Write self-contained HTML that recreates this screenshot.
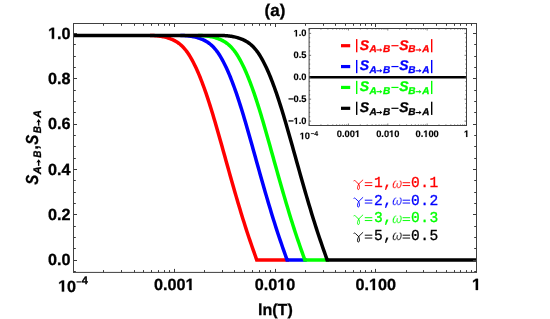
<!DOCTYPE html><html><head><meta charset="utf-8"><style>html,body{margin:0;padding:0;background:#fff}svg{display:block;will-change:transform}text{font-family:"Liberation Sans",sans-serif;font-weight:bold;text-rendering:geometricPrecision}.bi{font-style:italic}.m{font-family:"Liberation Mono",monospace;font-weight:normal}.k{stroke:#000;stroke-width:0.3}</style></head><body>
<svg width="550" height="319" viewBox="0 0 550 319">
<rect width="550" height="319" fill="#fff"/>
<clipPath id="c"><rect x="73.00" y="23.50" width="403.50" height="248.90"/></clipPath>
<g clip-path="url(#c)" fill="none" stroke-width="3.5" stroke-linejoin="miter">
<path d="M150.00 35.50 L151.00 35.51 L152.00 35.54 L153.00 35.58 L154.00 35.62 L155.00 35.68 L156.00 35.75 L157.00 35.84 L158.00 35.93 L159.00 36.05 L160.00 36.18 L161.00 36.33 L162.00 36.50 L163.00 36.69 L164.00 36.89 L165.00 37.13 L166.00 37.38 L167.00 37.66 L168.00 37.96 L169.00 38.29 L170.00 38.65 L171.00 39.03 L172.00 39.45 L173.00 39.89 L174.00 40.37 L175.00 40.89 L176.00 41.46 L177.00 42.07 L178.00 42.74 L179.00 43.46 L180.00 44.25 L181.00 45.10 L182.00 46.03 L183.00 47.03 L184.00 48.11 L185.00 49.27 L186.00 50.53 L187.00 51.87 L188.00 53.30 L189.00 54.81 L190.00 56.42 L191.00 58.11 L192.00 59.88 L193.00 61.74 L194.00 63.68 L195.00 65.70 L196.00 67.81 L197.00 70.00 L198.00 72.27 L199.00 74.61 L200.00 77.04 L201.00 79.54 L202.00 82.12 L203.00 84.77 L204.00 87.50 L205.00 90.30 L206.00 93.17 L207.00 96.12 L208.00 99.14 L209.00 102.22 L210.00 105.35 L211.00 108.55 L212.00 111.80 L213.00 115.10 L214.00 118.44 L215.00 121.82 L216.00 125.25 L217.00 128.70 L218.00 132.18 L219.00 135.70 L220.00 139.23 L221.00 142.78 L222.00 146.34 L223.00 149.92 L224.00 153.50 L225.00 157.08 L226.00 160.66 L227.00 164.24 L228.00 167.81 L229.00 171.37 L230.00 174.92 L231.00 178.46 L232.00 181.98 L233.00 185.48 L234.00 188.96 L235.00 192.43 L236.00 195.87 L237.00 199.28 L238.00 202.67 L239.00 206.03 L240.00 209.36 L241.00 212.66 L242.00 215.93 L243.00 219.16 L244.00 222.35 L245.00 225.50 L246.00 228.61 L247.00 231.68 L248.00 234.70 L249.00 237.69 L250.00 240.64 L251.00 243.55 L252.00 246.45 L253.00 249.32 L254.00 252.17 L255.00 255.00 L256.00 257.83 L256.70 259.90 L289.03 259.90" stroke="#ff0000"/>
<path d="M180.33 35.50 L181.33 35.51 L182.33 35.54 L183.33 35.58 L184.33 35.62 L185.33 35.68 L186.33 35.75 L187.33 35.84 L188.33 35.93 L189.33 36.05 L190.33 36.18 L191.33 36.33 L192.33 36.50 L193.33 36.69 L194.33 36.89 L195.33 37.13 L196.33 37.38 L197.33 37.66 L198.33 37.96 L199.33 38.29 L200.33 38.65 L201.33 39.03 L202.33 39.45 L203.33 39.89 L204.33 40.37 L205.33 40.89 L206.33 41.46 L207.33 42.07 L208.33 42.74 L209.33 43.46 L210.33 44.25 L211.33 45.10 L212.33 46.03 L213.33 47.03 L214.33 48.11 L215.33 49.27 L216.33 50.53 L217.33 51.87 L218.33 53.30 L219.33 54.81 L220.33 56.42 L221.33 58.11 L222.33 59.88 L223.33 61.74 L224.33 63.68 L225.33 65.70 L226.33 67.81 L227.33 70.00 L228.33 72.27 L229.33 74.61 L230.33 77.04 L231.33 79.54 L232.33 82.12 L233.33 84.77 L234.33 87.50 L235.33 90.30 L236.33 93.17 L237.33 96.12 L238.33 99.14 L239.33 102.22 L240.33 105.35 L241.33 108.55 L242.33 111.80 L243.33 115.10 L244.33 118.44 L245.33 121.82 L246.33 125.25 L247.33 128.70 L248.33 132.18 L249.33 135.70 L250.33 139.23 L251.33 142.78 L252.33 146.34 L253.33 149.92 L254.33 153.50 L255.33 157.08 L256.33 160.66 L257.33 164.24 L258.33 167.81 L259.33 171.37 L260.33 174.92 L261.33 178.46 L262.33 181.98 L263.33 185.48 L264.33 188.96 L265.33 192.43 L266.33 195.87 L267.33 199.28 L268.33 202.67 L269.33 206.03 L270.33 209.36 L271.33 212.66 L272.33 215.93 L273.33 219.16 L274.33 222.35 L275.33 225.50 L276.33 228.61 L277.33 231.68 L278.33 234.70 L279.33 237.69 L280.33 240.64 L281.33 243.55 L282.33 246.45 L283.33 249.32 L284.33 252.17 L285.33 255.00 L286.33 257.83 L287.03 259.90 L306.77 259.90" stroke="#0000ff"/>
<path d="M198.07 35.50 L199.07 35.51 L200.07 35.54 L201.07 35.58 L202.07 35.62 L203.07 35.68 L204.07 35.75 L205.07 35.84 L206.07 35.93 L207.07 36.05 L208.07 36.18 L209.07 36.33 L210.07 36.50 L211.07 36.69 L212.07 36.89 L213.07 37.13 L214.07 37.38 L215.07 37.66 L216.07 37.96 L217.07 38.29 L218.07 38.65 L219.07 39.03 L220.07 39.45 L221.07 39.89 L222.07 40.37 L223.07 40.89 L224.07 41.46 L225.07 42.07 L226.07 42.74 L227.07 43.46 L228.07 44.25 L229.07 45.10 L230.07 46.03 L231.07 47.03 L232.07 48.11 L233.07 49.27 L234.07 50.53 L235.07 51.87 L236.07 53.30 L237.07 54.81 L238.07 56.42 L239.07 58.11 L240.07 59.88 L241.07 61.74 L242.07 63.68 L243.07 65.70 L244.07 67.81 L245.07 70.00 L246.07 72.27 L247.07 74.61 L248.07 77.04 L249.07 79.54 L250.07 82.12 L251.07 84.77 L252.07 87.50 L253.07 90.30 L254.07 93.17 L255.07 96.12 L256.07 99.14 L257.07 102.22 L258.07 105.35 L259.07 108.55 L260.07 111.80 L261.07 115.10 L262.07 118.44 L263.07 121.82 L264.07 125.25 L265.07 128.70 L266.07 132.18 L267.07 135.70 L268.07 139.23 L269.07 142.78 L270.07 146.34 L271.07 149.92 L272.07 153.50 L273.07 157.08 L274.07 160.66 L275.07 164.24 L276.07 167.81 L277.07 171.37 L278.07 174.92 L279.07 178.46 L280.07 181.98 L281.07 185.48 L282.07 188.96 L283.07 192.43 L284.07 195.87 L285.07 199.28 L286.07 202.67 L287.07 206.03 L288.07 209.36 L289.07 212.66 L290.07 215.93 L291.07 219.16 L292.07 222.35 L293.07 225.50 L294.07 228.61 L295.07 231.68 L296.07 234.70 L297.07 237.69 L298.07 240.64 L299.07 243.55 L300.07 246.45 L301.07 249.32 L302.07 252.17 L303.07 255.00 L304.07 257.83 L304.77 259.90 L329.12 259.90" stroke="#00ff00"/>
<path d="M73.50 35.50 L218.42 35.50 L219.42 35.50 L220.42 35.50 L221.42 35.51 L222.42 35.54 L223.42 35.58 L224.42 35.62 L225.42 35.68 L226.42 35.75 L227.42 35.84 L228.42 35.93 L229.42 36.05 L230.42 36.18 L231.42 36.33 L232.42 36.50 L233.42 36.69 L234.42 36.89 L235.42 37.13 L236.42 37.38 L237.42 37.66 L238.42 37.96 L239.42 38.29 L240.42 38.65 L241.42 39.03 L242.42 39.45 L243.42 39.89 L244.42 40.37 L245.42 40.89 L246.42 41.46 L247.42 42.07 L248.42 42.74 L249.42 43.46 L250.42 44.25 L251.42 45.10 L252.42 46.03 L253.42 47.03 L254.42 48.11 L255.42 49.27 L256.42 50.53 L257.42 51.87 L258.42 53.30 L259.42 54.81 L260.42 56.42 L261.42 58.11 L262.42 59.88 L263.42 61.74 L264.42 63.68 L265.42 65.70 L266.42 67.81 L267.42 70.00 L268.42 72.27 L269.42 74.61 L270.42 77.04 L271.42 79.54 L272.42 82.12 L273.42 84.77 L274.42 87.50 L275.42 90.30 L276.42 93.17 L277.42 96.12 L278.42 99.14 L279.42 102.22 L280.42 105.35 L281.42 108.55 L282.42 111.80 L283.42 115.10 L284.42 118.44 L285.42 121.82 L286.42 125.25 L287.42 128.70 L288.42 132.18 L289.42 135.70 L290.42 139.23 L291.42 142.78 L292.42 146.34 L293.42 149.92 L294.42 153.50 L295.42 157.08 L296.42 160.66 L297.42 164.24 L298.42 167.81 L299.42 171.37 L300.42 174.92 L301.42 178.46 L302.42 181.98 L303.42 185.48 L304.42 188.96 L305.42 192.43 L306.42 195.87 L307.42 199.28 L308.42 202.67 L309.42 206.03 L310.42 209.36 L311.42 212.66 L312.42 215.93 L313.42 219.16 L314.42 222.35 L315.42 225.50 L316.42 228.61 L317.42 231.68 L318.42 234.70 L319.42 237.69 L320.42 240.64 L321.42 243.55 L322.42 246.45 L323.42 249.32 L324.42 252.17 L325.42 255.00 L326.42 257.83 L327.12 259.90 L476.50 259.90" stroke="#000000"/>
</g>
<path d="M73.50 271.50h2.30M476.50 271.50h-2.30M73.50 260.50h3.50M476.50 260.50h-3.50M73.50 248.50h2.30M476.50 248.50h-2.30M73.50 237.50h2.30M476.50 237.50h-2.30M73.50 226.50h2.30M476.50 226.50h-2.30M73.50 214.50h3.50M476.50 214.50h-3.50M73.50 203.50h2.30M476.50 203.50h-2.30M73.50 192.50h2.30M476.50 192.50h-2.30M73.50 180.50h2.30M476.50 180.50h-2.30M73.50 169.50h3.50M476.50 169.50h-3.50M73.50 158.50h2.30M476.50 158.50h-2.30M73.50 146.50h2.30M476.50 146.50h-2.30M73.50 135.50h2.30M476.50 135.50h-2.30M73.50 124.50h3.50M476.50 124.50h-3.50M73.50 112.50h2.30M476.50 112.50h-2.30M73.50 101.50h2.30M476.50 101.50h-2.30M73.50 90.50h2.30M476.50 90.50h-2.30M73.50 78.50h3.50M476.50 78.50h-3.50M73.50 67.50h2.30M476.50 67.50h-2.30M73.50 56.50h2.30M476.50 56.50h-2.30M73.50 44.50h2.30M476.50 44.50h-2.30M73.50 33.50h3.50M476.50 33.50h-3.50M73.50 272.40v-3.50M73.50 23.50v3.50M103.50 272.40v-2.30M103.50 23.50v2.30M121.50 272.40v-2.30M121.50 23.50v2.30M134.50 272.40v-2.30M134.50 23.50v2.30M143.50 272.40v-2.30M143.50 23.50v2.30M151.50 272.40v-2.30M151.50 23.50v2.30M158.50 272.40v-2.30M158.50 23.50v2.30M164.50 272.40v-2.30M164.50 23.50v2.30M169.50 272.40v-2.30M169.50 23.50v2.30M174.50 272.40v-3.50M174.50 23.50v3.50M204.50 272.40v-2.30M204.50 23.50v2.30M222.50 272.40v-2.30M222.50 23.50v2.30M234.50 272.40v-2.30M234.50 23.50v2.30M244.50 272.40v-2.30M244.50 23.50v2.30M252.50 272.40v-2.30M252.50 23.50v2.30M259.50 272.40v-2.30M259.50 23.50v2.30M265.50 272.40v-2.30M265.50 23.50v2.30M270.50 272.40v-2.30M270.50 23.50v2.30M275.50 272.40v-3.50M275.50 23.50v3.50M305.50 272.40v-2.30M305.50 23.50v2.30M323.50 272.40v-2.30M323.50 23.50v2.30M335.50 272.40v-2.30M335.50 23.50v2.30M345.50 272.40v-2.30M345.50 23.50v2.30M353.50 272.40v-2.30M353.50 23.50v2.30M360.50 272.40v-2.30M360.50 23.50v2.30M365.50 272.40v-2.30M365.50 23.50v2.30M371.50 272.40v-2.30M371.50 23.50v2.30M375.50 272.40v-3.50M375.50 23.50v3.50M406.50 272.40v-2.30M406.50 23.50v2.30M423.50 272.40v-2.30M423.50 23.50v2.30M436.50 272.40v-2.30M436.50 23.50v2.30M446.50 272.40v-2.30M446.50 23.50v2.30M454.50 272.40v-2.30M454.50 23.50v2.30M460.50 272.40v-2.30M460.50 23.50v2.30M466.50 272.40v-2.30M466.50 23.50v2.30M471.50 272.40v-2.30M471.50 23.50v2.30M476.50 272.40v-3.50M476.50 23.50v3.50" stroke="#3a3a3a" stroke-width="1" fill="none"/>
<rect x="73.50" y="23.50" width="403.00" height="248.90" fill="none" stroke="#404040" stroke-width="1"/>
<text x="48.08" y="265.45" font-size="16.20" fill="#000" stroke="#000" stroke-width="0.30">0.0</text>
<text x="48.08" y="220.13" font-size="16.20" fill="#000" stroke="#000" stroke-width="0.30">0.2</text>
<text x="48.08" y="174.81" font-size="16.20" fill="#000" stroke="#000" stroke-width="0.30">0.4</text>
<text x="48.08" y="129.49" font-size="16.20" fill="#000" stroke="#000" stroke-width="0.30">0.6</text>
<text x="48.08" y="84.17" font-size="16.20" fill="#000" stroke="#000" stroke-width="0.30">0.8</text>
<path d="M51.86 38.85 L51.86 29.60 L49.19 31.26 L49.19 29.52 L51.98 27.70 L54.08 27.70 L54.08 38.85 Z" fill="#000" stroke="#000" stroke-width="0.30"/><text x="57.09" y="38.85" font-size="16.20" fill="#000" stroke="#000" stroke-width="0.30">.0</text>
<text x="153.98" y="290.00" font-size="16.20" fill="#000" stroke="#000" stroke-width="0.30">0.00</text><path d="M189.29 290.00 L189.29 280.75 L186.62 282.41 L186.62 280.67 L189.41 278.85 L191.51 278.85 L191.51 290.00 Z" fill="#000" stroke="#000" stroke-width="0.30"/>
<text x="254.73" y="290.00" font-size="16.20" fill="#000" stroke="#000" stroke-width="0.30">0.0</text><path d="M281.03 290.00 L281.03 280.75 L278.36 282.41 L278.36 280.67 L281.15 278.85 L283.25 278.85 L283.25 290.00 Z" fill="#000" stroke="#000" stroke-width="0.30"/><text x="286.26" y="290.00" font-size="16.20" fill="#000" stroke="#000" stroke-width="0.30">0</text>
<text x="355.48" y="290.00" font-size="16.20" fill="#000" stroke="#000" stroke-width="0.30">0.</text><path d="M372.77 290.00 L372.77 280.75 L370.10 282.41 L370.10 280.67 L372.89 278.85 L374.99 278.85 L374.99 290.00 Z" fill="#000" stroke="#000" stroke-width="0.30"/><text x="378.00" y="290.00" font-size="16.20" fill="#000" stroke="#000" stroke-width="0.30">00</text>
<path d="M475.78 290.00 L475.78 280.75 L473.10 282.41 L473.10 280.67 L475.89 278.85 L478.00 278.85 L478.00 290.00 Z" fill="#000" stroke="#000" stroke-width="0.30"/>
<path d="M61.88 291.60 L61.88 282.35 L59.21 284.01 L59.21 282.27 L62.00 280.45 L64.10 280.45 L64.10 291.60 Z" fill="#000" stroke="#000" stroke-width="0.30"/><text x="67.11" y="291.60" font-size="16.20" fill="#000" stroke="#000" stroke-width="0.30">0</text><path d="M76.5 281.9h4.9" stroke="#000" stroke-width="1.1"/><text x="81.70" y="284.00" font-size="11.00" fill="#000" stroke="#000" stroke-width="0.30">4</text>
<text class="k" x="275" y="16.0" font-size="17" text-anchor="middle">(a)</text>
<text class="k" x="275.4" y="315.2" font-size="16" text-anchor="middle">ln(T)</text>
<g transform="translate(38.2,184.8) rotate(-90)"><text class="bi" transform="scale(0.860,1)" x="0.14" y="0.00" font-size="17.40" fill="#000" stroke="#000" stroke-width="0.3">S</text><text class="bi" x="10.53" y="3.10" font-size="11.00" fill="#000" stroke="#000" stroke-width="0.3">A</text><text class="bi" transform="scale(0.900,1)" x="30.14" y="3.10" font-size="11.00" fill="#000" stroke="#000" stroke-width="0.3">B</text><text class="" transform="scale(0.860,1)" x="40.91" y="0.00" font-size="17.40" fill="#000" stroke="#000" stroke-width="0.3">,</text><text class="bi" transform="scale(0.860,1)" x="46.65" y="0.00" font-size="17.40" fill="#000" stroke="#000" stroke-width="0.3">S</text><text class="bi" transform="scale(0.900,1)" x="57.25" y="3.10" font-size="11.00" fill="#000" stroke="#000" stroke-width="0.3">B</text><text class="bi" x="66.73" y="3.10" font-size="11.00" fill="#000" stroke="#000" stroke-width="0.3">A</text><path d="M18.90 0.45H24.40" stroke="#000" stroke-width="1.40" fill="none"/><path d="M25.60 0.45L22.20 -1.85L22.90 0.45L22.20 2.75Z" fill="#000"/><path d="M59.10 0.45H64.60" stroke="#000" stroke-width="1.40" fill="none"/><path d="M65.80 0.45L62.40 -1.85L63.10 0.45L62.40 2.75Z" fill="#000"/></g>
<path d="M353.9 180.70 Q354.6 180.10 355.4 181.00 L358.6 184.00 M362.8 180.00 L358.9 183.80 C357.8 185.60 357.3 187.60 357.5 188.70 C357.8 189.90 358.9 189.90 359.3 188.50 C359.7 187.20 359.5 185.30 358.6 184.00" fill="none" stroke="#ff0000" stroke-width="0.9" stroke-linecap="round" stroke-linejoin="round"/><path d="M364.80 182.70h7.5M364.80 185.55h7.5" stroke="#ff0000" stroke-width="0.95" fill="none"/><text class="m" transform="translate(374.10,187.30) scale(0.97,1.01)" font-size="15.0" fill="#ff0000" stroke="#ff0000" stroke-width="0.32">1</text><text class="m" transform="translate(383.33,187.30) scale(0.97,1.01)" font-size="15.0" fill="#ff0000" stroke="#ff0000" stroke-width="0.32">,</text><text class="m" transform="translate(391.56,187.60) skewX(-12) scale(1.18,1.03)" x="0" y="0" font-size="14" fill="#ff0000" stroke="#fff" stroke-width="0.22">ω</text><path d="M402.60 182.70h7.5M402.60 185.55h7.5" stroke="#ff0000" stroke-width="0.95" fill="none"/><text class="m" transform="translate(411.02,187.30) scale(0.97,1.01)" font-size="15.0" fill="#ff0000" stroke="#ff0000" stroke-width="0.32">0</text><text class="m" transform="translate(420.25,187.30) scale(0.97,1.01)" font-size="15.0" fill="#ff0000" stroke="#ff0000" stroke-width="0.32">.</text><text class="m" transform="translate(429.48,187.30) scale(0.97,1.01)" font-size="15.0" fill="#ff0000" stroke="#ff0000" stroke-width="0.32">1</text>
<path d="M353.9 198.20 Q354.6 197.60 355.4 198.50 L358.6 201.50 M362.8 197.50 L358.9 201.30 C357.8 203.10 357.3 205.10 357.5 206.20 C357.8 207.40 358.9 207.40 359.3 206.00 C359.7 204.70 359.5 202.80 358.6 201.50" fill="none" stroke="#0000ff" stroke-width="0.9" stroke-linecap="round" stroke-linejoin="round"/><path d="M364.80 200.20h7.5M364.80 203.05h7.5" stroke="#0000ff" stroke-width="0.95" fill="none"/><text class="m" transform="translate(374.10,204.80) scale(0.97,1.01)" font-size="15.0" fill="#0000ff" stroke="#0000ff" stroke-width="0.32">2</text><text class="m" transform="translate(383.33,204.80) scale(0.97,1.01)" font-size="15.0" fill="#0000ff" stroke="#0000ff" stroke-width="0.32">,</text><text class="m" transform="translate(391.56,205.10) skewX(-12) scale(1.18,1.03)" x="0" y="0" font-size="14" fill="#0000ff" stroke="#fff" stroke-width="0.22">ω</text><path d="M402.60 200.20h7.5M402.60 203.05h7.5" stroke="#0000ff" stroke-width="0.95" fill="none"/><text class="m" transform="translate(411.02,204.80) scale(0.97,1.01)" font-size="15.0" fill="#0000ff" stroke="#0000ff" stroke-width="0.32">0</text><text class="m" transform="translate(420.25,204.80) scale(0.97,1.01)" font-size="15.0" fill="#0000ff" stroke="#0000ff" stroke-width="0.32">.</text><text class="m" transform="translate(429.48,204.80) scale(0.97,1.01)" font-size="15.0" fill="#0000ff" stroke="#0000ff" stroke-width="0.32">2</text>
<path d="M353.9 215.70 Q354.6 215.10 355.4 216.00 L358.6 219.00 M362.8 215.00 L358.9 218.80 C357.8 220.60 357.3 222.60 357.5 223.70 C357.8 224.90 358.9 224.90 359.3 223.50 C359.7 222.20 359.5 220.30 358.6 219.00" fill="none" stroke="#00ff00" stroke-width="0.9" stroke-linecap="round" stroke-linejoin="round"/><path d="M364.80 217.70h7.5M364.80 220.55h7.5" stroke="#00ff00" stroke-width="0.95" fill="none"/><text class="m" transform="translate(374.10,222.30) scale(0.97,1.01)" font-size="15.0" fill="#00ff00" stroke="#00ff00" stroke-width="0.32">3</text><text class="m" transform="translate(383.33,222.30) scale(0.97,1.01)" font-size="15.0" fill="#00ff00" stroke="#00ff00" stroke-width="0.32">,</text><text class="m" transform="translate(391.56,222.60) skewX(-12) scale(1.18,1.03)" x="0" y="0" font-size="14" fill="#00ff00" stroke="#fff" stroke-width="0.22">ω</text><path d="M402.60 217.70h7.5M402.60 220.55h7.5" stroke="#00ff00" stroke-width="0.95" fill="none"/><text class="m" transform="translate(411.02,222.30) scale(0.97,1.01)" font-size="15.0" fill="#00ff00" stroke="#00ff00" stroke-width="0.32">0</text><text class="m" transform="translate(420.25,222.30) scale(0.97,1.01)" font-size="15.0" fill="#00ff00" stroke="#00ff00" stroke-width="0.32">.</text><text class="m" transform="translate(429.48,222.30) scale(0.97,1.01)" font-size="15.0" fill="#00ff00" stroke="#00ff00" stroke-width="0.32">3</text>
<path d="M353.9 233.20 Q354.6 232.60 355.4 233.50 L358.6 236.50 M362.8 232.50 L358.9 236.30 C357.8 238.10 357.3 240.10 357.5 241.20 C357.8 242.40 358.9 242.40 359.3 241.00 C359.7 239.70 359.5 237.80 358.6 236.50" fill="none" stroke="#000000" stroke-width="0.9" stroke-linecap="round" stroke-linejoin="round"/><path d="M364.80 235.20h7.5M364.80 238.05h7.5" stroke="#000000" stroke-width="0.95" fill="none"/><text class="m" transform="translate(374.10,239.80) scale(0.97,1.01)" font-size="15.0" fill="#000000" stroke="#000000" stroke-width="0.32">5</text><text class="m" transform="translate(383.33,239.80) scale(0.97,1.01)" font-size="15.0" fill="#000000" stroke="#000000" stroke-width="0.32">,</text><text class="m" transform="translate(391.56,240.10) skewX(-12) scale(1.18,1.03)" x="0" y="0" font-size="14" fill="#000000" stroke="#fff" stroke-width="0.22">ω</text><path d="M402.60 235.20h7.5M402.60 238.05h7.5" stroke="#000000" stroke-width="0.95" fill="none"/><text class="m" transform="translate(411.02,239.80) scale(0.97,1.01)" font-size="15.0" fill="#000000" stroke="#000000" stroke-width="0.32">0</text><text class="m" transform="translate(420.25,239.80) scale(0.97,1.01)" font-size="15.0" fill="#000000" stroke="#000000" stroke-width="0.32">.</text><text class="m" transform="translate(429.48,239.80) scale(0.97,1.01)" font-size="15.0" fill="#000000" stroke="#000000" stroke-width="0.32">5</text>
<rect x="309.10" y="28.50" width="157.40" height="97.00" fill="#fff"/>
<path d="M309.10 77.25H466.50" stroke="#000" stroke-width="2.5"/>
<path d="M309.10 125.49h1.10M466.50 125.49h-1.10M309.10 121.10h2.00M466.50 121.10h-2.00M309.10 116.72h1.10M466.50 116.72h-1.10M309.10 112.33h1.10M466.50 112.33h-1.10M309.10 107.95h1.10M466.50 107.95h-1.10M309.10 103.56h1.10M466.50 103.56h-1.10M309.10 99.17h2.00M466.50 99.17h-2.00M309.10 94.79h1.10M466.50 94.79h-1.10M309.10 90.41h1.10M466.50 90.41h-1.10M309.10 86.02h1.10M466.50 86.02h-1.10M309.10 81.64h1.10M466.50 81.64h-1.10M309.10 77.25h2.00M466.50 77.25h-2.00M309.10 72.86h1.10M466.50 72.86h-1.10M309.10 68.48h1.10M466.50 68.48h-1.10M309.10 64.09h1.10M466.50 64.09h-1.10M309.10 59.71h1.10M466.50 59.71h-1.10M309.10 55.33h2.00M466.50 55.33h-2.00M309.10 50.94h1.10M466.50 50.94h-1.10M309.10 46.55h1.10M466.50 46.55h-1.10M309.10 42.17h1.10M466.50 42.17h-1.10M309.10 37.78h1.10M466.50 37.78h-1.10M309.10 33.40h2.00M466.50 33.40h-2.00M309.10 29.01h1.10M466.50 29.01h-1.10M309.10 125.50v-2.00M309.10 28.50v2.00M320.95 125.50v-1.10M320.95 28.50v1.10M327.87 125.50v-1.10M327.87 28.50v1.10M332.79 125.50v-1.10M332.79 28.50v1.10M336.60 125.50v-1.10M336.60 28.50v1.10M339.72 125.50v-1.10M339.72 28.50v1.10M342.35 125.50v-1.10M342.35 28.50v1.10M344.64 125.50v-1.10M344.64 28.50v1.10M346.65 125.50v-1.10M346.65 28.50v1.10M348.45 125.50v-2.00M348.45 28.50v2.00M360.30 125.50v-1.10M360.30 28.50v1.10M367.22 125.50v-1.10M367.22 28.50v1.10M372.14 125.50v-1.10M372.14 28.50v1.10M375.95 125.50v-1.10M375.95 28.50v1.10M379.07 125.50v-1.10M379.07 28.50v1.10M381.70 125.50v-1.10M381.70 28.50v1.10M383.99 125.50v-1.10M383.99 28.50v1.10M386.00 125.50v-1.10M386.00 28.50v1.10M387.80 125.50v-2.00M387.80 28.50v2.00M399.65 125.50v-1.10M399.65 28.50v1.10M406.57 125.50v-1.10M406.57 28.50v1.10M411.49 125.50v-1.10M411.49 28.50v1.10M415.30 125.50v-1.10M415.30 28.50v1.10M418.42 125.50v-1.10M418.42 28.50v1.10M421.05 125.50v-1.10M421.05 28.50v1.10M423.34 125.50v-1.10M423.34 28.50v1.10M425.35 125.50v-1.10M425.35 28.50v1.10M427.15 125.50v-2.00M427.15 28.50v2.00M439.00 125.50v-1.10M439.00 28.50v1.10M445.92 125.50v-1.10M445.92 28.50v1.10M450.84 125.50v-1.10M450.84 28.50v1.10M454.65 125.50v-1.10M454.65 28.50v1.10M457.77 125.50v-1.10M457.77 28.50v1.10M460.40 125.50v-1.10M460.40 28.50v1.10M462.69 125.50v-1.10M462.69 28.50v1.10M464.70 125.50v-1.10M464.70 28.50v1.10M466.50 125.50v-2.00M466.50 28.50v2.00" stroke="#404040" stroke-width="0.7" fill="none"/>
<rect x="309.10" y="28.50" width="157.40" height="97.00" fill="none" stroke="#404040" stroke-width="1"/>
<path d="M295.74 36.40 L295.74 31.09 L294.21 32.05 L294.21 31.04 L295.81 30.00 L297.02 30.00 L297.02 36.40 Z" fill="#000" stroke="#000" stroke-width="0.15"/><text x="298.74" y="36.40" font-size="9.30" fill="#000" stroke="#000" stroke-width="0.15">.0</text>
<text x="293.57" y="58.33" font-size="9.30" fill="#000" stroke="#000" stroke-width="0.15">0.5</text>
<text x="293.57" y="80.25" font-size="9.30" fill="#000" stroke="#000" stroke-width="0.15">0.0</text>
<text x="288.14" y="102.17" font-size="9.30" fill="#000" stroke="#000" stroke-width="0.15">−0.5</text>
<text x="288.14" y="124.10" font-size="9.30" fill="#000" stroke="#000" stroke-width="0.15">−</text><path d="M295.74 124.10 L295.74 118.79 L294.21 119.75 L294.21 118.74 L295.81 117.70 L297.02 117.70 L297.02 124.10 Z" fill="#000" stroke="#000" stroke-width="0.15"/><text x="298.74" y="124.10" font-size="9.30" fill="#000" stroke="#000" stroke-width="0.15">.0</text>
<text x="336.81" y="137.00" font-size="9.30" fill="#000" stroke="#000" stroke-width="0.15">0.00</text><path d="M357.08 137.00 L357.08 131.69 L355.55 132.65 L355.55 131.64 L357.15 130.60 L358.36 130.60 L358.36 137.00 Z" fill="#000" stroke="#000" stroke-width="0.15"/>
<text x="376.16" y="137.00" font-size="9.30" fill="#000" stroke="#000" stroke-width="0.15">0.0</text><path d="M391.26 137.00 L391.26 131.69 L389.73 132.65 L389.73 131.64 L391.33 130.60 L392.54 130.60 L392.54 137.00 Z" fill="#000" stroke="#000" stroke-width="0.15"/><text x="394.26" y="137.00" font-size="9.30" fill="#000" stroke="#000" stroke-width="0.15">0</text>
<text x="415.51" y="137.00" font-size="9.30" fill="#000" stroke="#000" stroke-width="0.15">0.</text><path d="M425.44 137.00 L425.44 131.69 L423.91 132.65 L423.91 131.64 L425.51 130.60 L426.72 130.60 L426.72 137.00 Z" fill="#000" stroke="#000" stroke-width="0.15"/><text x="428.44" y="137.00" font-size="9.30" fill="#000" stroke="#000" stroke-width="0.15">00</text>
<path d="M466.08 137.00 L466.08 131.69 L464.55 132.65 L464.55 131.64 L466.15 130.60 L467.36 130.60 L467.36 137.00 Z" fill="#000" stroke="#000" stroke-width="0.15"/>
<path d="M301.87 139.20 L301.87 133.89 L300.34 134.85 L300.34 133.84 L301.94 132.80 L303.15 132.80 L303.15 139.20 Z" fill="#000" stroke="#000" stroke-width="0.15"/><text x="304.87" y="139.20" font-size="9.30" fill="#000" stroke="#000" stroke-width="0.15">0</text><path d="M310.9 133.6h3.2" stroke="#000" stroke-width="0.8"/><text x="314.30" y="135.70" font-size="7.00" fill="#000" stroke="#000" stroke-width="0.10">4</text>
<rect x="341" y="44.10" width="9.2" height="3.2" fill="#ff0000"/><rect x="356.0" y="39.10" width="1.4" height="13.2" fill="#ff0000"/><rect x="431.0" y="39.10" width="1.4" height="13.2" fill="#ff0000"/><rect x="391.4" y="45.10" width="7.1" height="1.2" fill="#ff0000"/><text class="bi" x="359.73" y="49.60" font-size="14.00" fill="#ff0000" stroke="#ff0000" stroke-width="0.3">S</text><text class="bi" x="369.41" y="52.10" font-size="10.00" fill="#ff0000" stroke="#ff0000" stroke-width="0.3">A</text><text class="bi" x="383.02" y="52.10" font-size="10.00" fill="#ff0000" stroke="#ff0000" stroke-width="0.3">B</text><text class="bi" x="399.23" y="49.60" font-size="14.00" fill="#ff0000" stroke="#ff0000" stroke-width="0.3">S</text><text class="bi" x="408.32" y="52.10" font-size="10.00" fill="#ff0000" stroke="#ff0000" stroke-width="0.3">B</text><text class="bi" x="422.31" y="52.10" font-size="10.00" fill="#ff0000" stroke="#ff0000" stroke-width="0.3">A</text><path d="M376.40 49.95H381.10" stroke="#ff0000" stroke-width="1.15" fill="none"/><path d="M382.30 49.95L379.70 47.95L380.40 49.95L379.70 51.95Z" fill="#ff0000"/><path d="M415.60 49.95H420.30" stroke="#ff0000" stroke-width="1.15" fill="none"/><path d="M421.50 49.95L418.90 47.95L419.60 49.95L418.90 51.95Z" fill="#ff0000"/>
<rect x="341" y="64.97" width="9.2" height="3.2" fill="#0000ff"/><rect x="356.0" y="59.97" width="1.4" height="13.2" fill="#0000ff"/><rect x="431.0" y="59.97" width="1.4" height="13.2" fill="#0000ff"/><rect x="391.4" y="65.97" width="7.1" height="1.2" fill="#0000ff"/><text class="bi" x="359.73" y="70.47" font-size="14.00" fill="#0000ff" stroke="#0000ff" stroke-width="0.3">S</text><text class="bi" x="369.41" y="72.97" font-size="10.00" fill="#0000ff" stroke="#0000ff" stroke-width="0.3">A</text><text class="bi" x="383.02" y="72.97" font-size="10.00" fill="#0000ff" stroke="#0000ff" stroke-width="0.3">B</text><text class="bi" x="399.23" y="70.47" font-size="14.00" fill="#0000ff" stroke="#0000ff" stroke-width="0.3">S</text><text class="bi" x="408.32" y="72.97" font-size="10.00" fill="#0000ff" stroke="#0000ff" stroke-width="0.3">B</text><text class="bi" x="422.31" y="72.97" font-size="10.00" fill="#0000ff" stroke="#0000ff" stroke-width="0.3">A</text><path d="M376.40 70.82H381.10" stroke="#0000ff" stroke-width="1.15" fill="none"/><path d="M382.30 70.82L379.70 68.82L380.40 70.82L379.70 72.82Z" fill="#0000ff"/><path d="M415.60 70.82H420.30" stroke="#0000ff" stroke-width="1.15" fill="none"/><path d="M421.50 70.82L418.90 68.82L419.60 70.82L418.90 72.82Z" fill="#0000ff"/>
<rect x="341" y="85.84" width="9.2" height="3.2" fill="#00ff00"/><rect x="356.0" y="80.84" width="1.4" height="13.2" fill="#00ff00"/><rect x="431.0" y="80.84" width="1.4" height="13.2" fill="#00ff00"/><rect x="391.4" y="86.84" width="7.1" height="1.2" fill="#00ff00"/><text class="bi" x="359.73" y="91.34" font-size="14.00" fill="#00ff00" stroke="#00ff00" stroke-width="0.3">S</text><text class="bi" x="369.41" y="93.84" font-size="10.00" fill="#00ff00" stroke="#00ff00" stroke-width="0.3">A</text><text class="bi" x="383.02" y="93.84" font-size="10.00" fill="#00ff00" stroke="#00ff00" stroke-width="0.3">B</text><text class="bi" x="399.23" y="91.34" font-size="14.00" fill="#00ff00" stroke="#00ff00" stroke-width="0.3">S</text><text class="bi" x="408.32" y="93.84" font-size="10.00" fill="#00ff00" stroke="#00ff00" stroke-width="0.3">B</text><text class="bi" x="422.31" y="93.84" font-size="10.00" fill="#00ff00" stroke="#00ff00" stroke-width="0.3">A</text><path d="M376.40 91.69H381.10" stroke="#00ff00" stroke-width="1.15" fill="none"/><path d="M382.30 91.69L379.70 89.69L380.40 91.69L379.70 93.69Z" fill="#00ff00"/><path d="M415.60 91.69H420.30" stroke="#00ff00" stroke-width="1.15" fill="none"/><path d="M421.50 91.69L418.90 89.69L419.60 91.69L418.90 93.69Z" fill="#00ff00"/>
<rect x="341" y="106.71" width="9.2" height="3.2" fill="#000000"/><rect x="356.0" y="101.71" width="1.4" height="13.2" fill="#000000"/><rect x="431.0" y="101.71" width="1.4" height="13.2" fill="#000000"/><rect x="391.4" y="107.71" width="7.1" height="1.2" fill="#000000"/><text class="bi" x="359.73" y="112.21" font-size="14.00" fill="#000000" stroke="#000000" stroke-width="0.3">S</text><text class="bi" x="369.41" y="114.71" font-size="10.00" fill="#000000" stroke="#000000" stroke-width="0.3">A</text><text class="bi" x="383.02" y="114.71" font-size="10.00" fill="#000000" stroke="#000000" stroke-width="0.3">B</text><text class="bi" x="399.23" y="112.21" font-size="14.00" fill="#000000" stroke="#000000" stroke-width="0.3">S</text><text class="bi" x="408.32" y="114.71" font-size="10.00" fill="#000000" stroke="#000000" stroke-width="0.3">B</text><text class="bi" x="422.31" y="114.71" font-size="10.00" fill="#000000" stroke="#000000" stroke-width="0.3">A</text><path d="M376.40 112.56H381.10" stroke="#000000" stroke-width="1.15" fill="none"/><path d="M382.30 112.56L379.70 110.56L380.40 112.56L379.70 114.56Z" fill="#000000"/><path d="M415.60 112.56H420.30" stroke="#000000" stroke-width="1.15" fill="none"/><path d="M421.50 112.56L418.90 110.56L419.60 112.56L418.90 114.56Z" fill="#000000"/>
</svg></body></html>
